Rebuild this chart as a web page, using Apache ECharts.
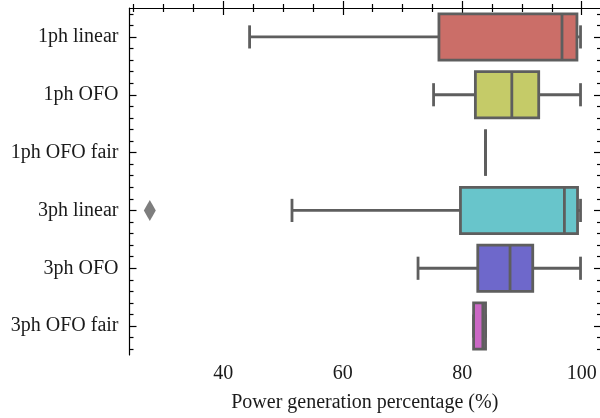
<!DOCTYPE html>
<html><head><meta charset="utf-8">
<script src="https://cdn.jsdelivr.net/npm/echarts@6/dist/echarts.min.js"></script>
<style>html,body{margin:0;padding:0;background:#fff}#c{width:600px;height:418px}</style>
</head><body><div id="c"></div>
<script>
const categories = ['1ph linear','1ph OFO','1ph OFO fair','3ph linear','3ph OFO','3ph OFO fair'];
// [min, Q1, median, Q3, max]
const boxStats = [
  [44.4, 76.1, 96.7, 99.2, 99.8],
  [75.2, 82.2, 88.3, 92.8, 99.8],
  [83.9, 83.9, 83.9, 83.9, 83.9],
  [51.5, 79.7, 97.1, 99.3, 99.8],
  [72.6, 82.6, 88.0, 91.8, 99.8],
  [81.9, 81.9, 83.45, 83.9, 83.9]
];
const boxColors = ['#CB6E68','#C5CB68','#68CB6E','#68C5CB','#6E68CB','#CB68C5'];
const outliers = [[27.7, 3]];
const xMajorTicks = [40, 60, 80, 100];
const xMinorTicks = [25, 30, 35, 45, 50, 55, 65, 70, 75, 85, 90, 95];
const yMajorTicks = [0.5, 1.5, 2.5, 3.5, 4.5, 5.5];
const yMinorTicks = [0.1,0.3,0.7,0.9,1.1,1.3,1.7,1.9,2.1,2.3,2.7,2.9,3.1,3.3,3.7,3.9,4.1,4.3,4.7,4.9,5.1,5.3,5.7,5.9];

const FONT = 'Liberation Serif';
const LINE = '#5e5e5e';
const X_MIN = 24.3, X_MAX = 103.06;

function xAx(pos, ticks, len, showLine, labels, extra) {
  return Object.assign({
    type: 'value', position: pos, min: X_MIN, max: X_MAX,
    splitLine: {show: false},
    axisLine: {show: showLine, lineStyle: {color: '#000', width: 1.2}},
    axisTick: {show: true, inside: true, length: len, customValues: ticks, lineStyle: {color: '#000', width: 1.2}},
    axisLabel: labels ? {show: true, customValues: ticks, fontFamily: FONT, fontSize: 20, color: '#1a1a1a', margin: 9} : {show: false}
  }, extra || {});
}
function yAx(pos, ticks, len) {
  return {
    type: 'value', position: pos, min: 0, max: 6, inverse: true,
    splitLine: {show: false}, axisLine: {show: false}, axisLabel: {show: false},
    axisTick: {show: true, inside: true, length: len, customValues: ticks, lineStyle: {color: '#000', width: 1.2}}
  };
}

const chart = echarts.init(document.getElementById('c'), null, {renderer: 'canvas'});
const customData = boxStats.map((s, i) => [i].concat(s));

chart.setOption({
  animation: false,
  grid: {left: 129.5, right: 0, top: 8, bottom: 58.5, containLabel: false},
  xAxis: [
    xAx('bottom', xMajorTicks, 7, true, true, {
      name: 'Power generation percentage (%)', nameLocation: 'middle', nameGap: 38,
      nameTextStyle: {fontFamily: FONT, fontSize: 20, color: '#1a1a1a'}
    }),
    xAx('bottom', xMinorTicks, 4, false, false),
    xAx('top', xMajorTicks, 7, true, false),
    xAx('top', xMinorTicks, 4, false, false)
  ],
  yAxis: [
    {
      type: 'category', data: categories, inverse: true, position: 'left',
      axisLine: {show: true, lineStyle: {color: '#000', width: 1.2}},
      axisTick: {show: false}, splitLine: {show: false},
      axisLabel: {fontFamily: FONT, fontSize: 20, color: '#1a1a1a', margin: 11}
    },
    yAx('left', yMajorTicks, 7),
    yAx('left', yMinorTicks, 4),
    yAx('right', yMajorTicks, 6),
    yAx('right', yMinorTicks, 3)
  ],
  series: [
    {
      type: 'custom', xAxisIndex: 0, yAxisIndex: 0,
      data: customData,
      encode: {x: [1, 2, 3, 4, 5], y: 0},
      renderItem: function (params, api) {
        const ci = api.value(0);
        const vMin = api.value(1), q1 = api.value(2), med = api.value(3), q3 = api.value(4), vMax = api.value(5);
        const band = api.size([0, 1])[1];
        const h = band * 0.8;
        const cap = h / 2;
        const pMin = api.coord([vMin, ci]);
        const pQ1 = api.coord([q1, ci]);
        const pMed = api.coord([med, ci]);
        const pQ3 = api.coord([q3, ci]);
        const pMax = api.coord([vMax, ci]);
        const cy = pQ1[1];
        const ls = {stroke: LINE, lineWidth: 2.8};
        const children = [
          {type: 'line', shape: {x1: pMin[0], y1: cy, x2: pQ1[0], y2: cy}, style: ls},
          {type: 'line', shape: {x1: pQ3[0], y1: cy, x2: pMax[0], y2: cy}, style: ls},
          {type: 'line', shape: {x1: pMin[0], y1: cy - cap / 2, x2: pMin[0], y2: cy + cap / 2}, style: ls},
          {type: 'line', shape: {x1: pMax[0], y1: cy - cap / 2, x2: pMax[0], y2: cy + cap / 2}, style: ls},
          {type: 'rect', shape: {x: pQ1[0], y: cy - h / 2, width: pQ3[0] - pQ1[0], height: h},
            style: {fill: boxColors[ci], stroke: LINE, lineWidth: 2.8}},
          {type: 'line', shape: {x1: pMed[0], y1: cy - h / 2, x2: pMed[0], y2: cy + h / 2}, style: ls}
        ];
        return {type: 'group', children: children};
      }
    },
    {
      type: 'scatter', xAxisIndex: 0, yAxisIndex: 0,
      data: outliers, symbol: 'diamond', symbolSize: [12, 21],
      itemStyle: {color: LINE}
    }
  ]
});
</script></body></html>
